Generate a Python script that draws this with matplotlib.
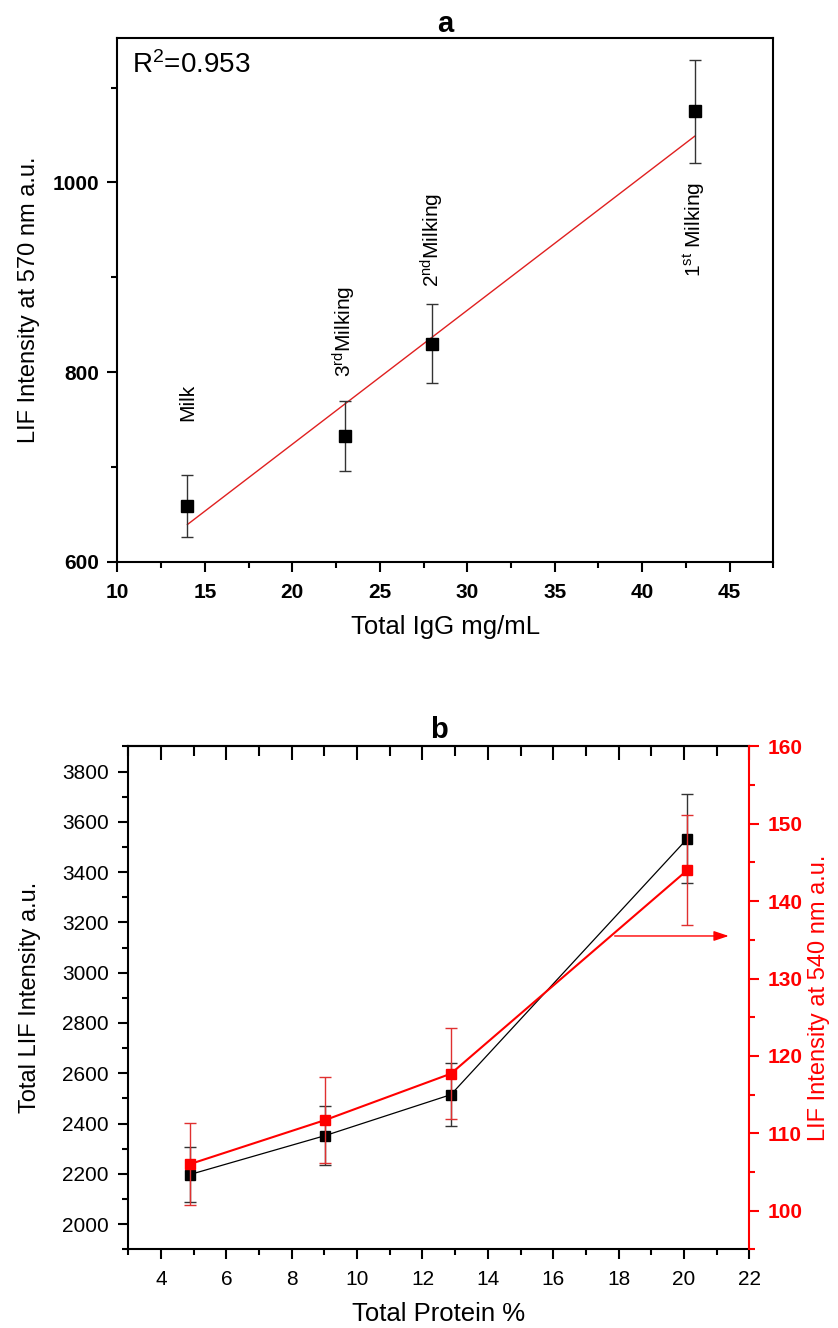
import numpy as np
import matplotlib
matplotlib.use("Agg")
import matplotlib.pyplot as plt
from matplotlib.ticker import MultipleLocator

plt.rcParams['font.family'] = ['Liberation Sans', 'DejaVu Sans']
plt.rcParams['mathtext.fontset'] = 'custom'
plt.rcParams['mathtext.rm'] = 'Liberation Sans'

# panel a: IgG vs LIF at 570 nm
igg = [14, 23, 28, 43]
lif570 = [659, 733, 830, 1075]
lif570_err = [33, 37, 42, 54]
sample_names = ["Milk",
                r"$\mathregular{3^{rd}}$Milking",
                r"$\mathregular{2^{nd}}$Milking",
                r"$\mathregular{1^{st}}$ Milking"]
name_y = [748, 795, 890, 900]
fit_slope = 14.12
fit_intercept = 441.6
r2_text = r"$\mathregular{R^2}$=0.953"

# panel b: total protein vs LIF
protein = [4.88, 9.02, 12.87, 20.1]
total_lif = [2197, 2352, 2515, 3533]
total_lif_err = [110, 117, 126, 176]
lif540 = [106.0, 111.7, 117.7, 144.0]
lif540_err = [5.3, 5.6, 5.9, 7.1]

fig = plt.figure(figsize=(8.38, 13.28), dpi=100)

# ---------- a ----------
ax = fig.add_axes([0.1402, 0.5770, 0.7826, 0.3941])
ax.errorbar(igg, lif570, yerr=lif570_err, fmt='s', color='black', ms=8,
            ecolor='#333333', elinewidth=1, capsize=4, capthick=1, zorder=3)
xf = np.array([igg[0], igg[-1]])
ax.plot(xf, fit_slope * xf + fit_intercept, color='#e02020', lw=1, zorder=2)
for x, y, s in zip(igg, name_y, sample_names):
    ax.text(x, y, s, rotation=90, ha='center', va='bottom', fontsize=15)
ax.text(0.022, 0.975, r2_text, transform=ax.transAxes, fontsize=20,
        ha='left', va='top')
ax.set_xlim(10, 47.5)
ax.set_ylim(600, 1152)
ax.xaxis.set_major_locator(MultipleLocator(5))
ax.xaxis.set_minor_locator(MultipleLocator(2.5))
ax.yaxis.set_major_locator(MultipleLocator(200))
ax.yaxis.set_minor_locator(MultipleLocator(100))
ax.tick_params(which='both', direction='out', width=1.5, top=False, right=False)
ax.tick_params(which='major', length=7, labelsize=15)
ax.tick_params(which='minor', length=4)
ax.tick_params(axis='x', pad=8)
ax.tick_params(axis='y', pad=6)
for lab in ax.get_xticklabels() + ax.get_yticklabels():
    lab.set_fontweight('bold')
for sp in ax.spines.values():
    sp.set_linewidth(1.5)
ax.set_xlabel("Total IgG mg/mL", fontsize=18.5)
ax.set_ylabel("LIF Intensity at 570 nm a.u.", fontsize=17)
ax.xaxis.set_label_coords(0.5, -0.102)
ax.yaxis.set_label_coords(-0.118, 0.5)
ax.set_title("a", fontsize=21, fontweight='bold', pad=1)

# ---------- b ----------
bx = fig.add_axes([0.1531, 0.0593, 0.7411, 0.3786])
bx.errorbar(protein, total_lif, yerr=total_lif_err, fmt='s-', color='black',
            ms=7, lw=0.9, ecolor='#333333', elinewidth=1, capsize=4,
            capthick=1, zorder=3)
bx.set_xlim(3, 22)
bx.set_ylim(1900, 3900)
bx.xaxis.set_major_locator(MultipleLocator(2))
bx.xaxis.set_minor_locator(MultipleLocator(1))
bx.yaxis.set_major_locator(MultipleLocator(200))
bx.yaxis.set_minor_locator(MultipleLocator(100))
bx.tick_params(which='both', direction='out', width=1.5, right=False, labelsize=15)
bx.tick_params(which='major', length=7)
bx.tick_params(which='minor', length=4)
bx.tick_params(axis='x', pad=8)
bx.tick_params(axis='y', pad=7)
bx.spines['right'].set_visible(False)
for sp in bx.spines.values():
    sp.set_linewidth(1.5)
bx.set_xlabel("Total Protein %", fontsize=18.5)
bx.set_ylabel("Total LIF Intensity a.u.", fontsize=17)
bx.xaxis.set_label_coords(0.5, -0.105)
bx.yaxis.set_label_coords(-0.14, 0.5)
bx.set_title("b", fontsize=21, fontweight='bold', pad=6)

# mirrored top ticks pointing inward
tx = bx.secondary_xaxis('top')
tx.xaxis.set_major_locator(MultipleLocator(2))
tx.xaxis.set_minor_locator(MultipleLocator(1))
tx.tick_params(which='both', direction='in', width=1.5, labeltop=False)
tx.tick_params(which='major', length=10)
tx.tick_params(which='minor', length=7)
tx.spines['top'].set_linewidth(1.5)

b2 = bx.twinx()
b2.errorbar(protein, lif540, yerr=lif540_err, fmt='s-', color='red', ms=7,
            lw=1.5, ecolor='#e03030', elinewidth=1, capsize=4, capthick=1,
            zorder=3)
b2.annotate('', xy=(21.37, 135.5), xytext=(17.88, 135.5),
            arrowprops=dict(arrowstyle='-|>,head_length=0.9,head_width=0.3',
                            color='red', lw=1, shrinkA=0, shrinkB=0))
b2.set_ylim(95, 160)
b2.yaxis.set_major_locator(MultipleLocator(10))
b2.yaxis.set_minor_locator(MultipleLocator(5))
b2.tick_params(axis='y', which='both', direction='out', width=1.5,
               colors='red', labelsize=15, pad=6)
b2.tick_params(axis='y', which='major', length=7)
b2.tick_params(axis='y', which='minor', length=4)
for lab in b2.get_yticklabels():
    lab.set_fontweight('bold')
for name in ['left', 'top', 'bottom']:
    b2.spines[name].set_visible(False)
b2.spines['right'].set_color('red')
b2.spines['right'].set_linewidth(1.5)
b2.set_ylabel("LIF Intensity at 540 nm a.u.", fontsize=17, color='red')
b2.yaxis.set_label_coords(1.095, 0.5)

fig.savefig("out.png", dpi=100)
